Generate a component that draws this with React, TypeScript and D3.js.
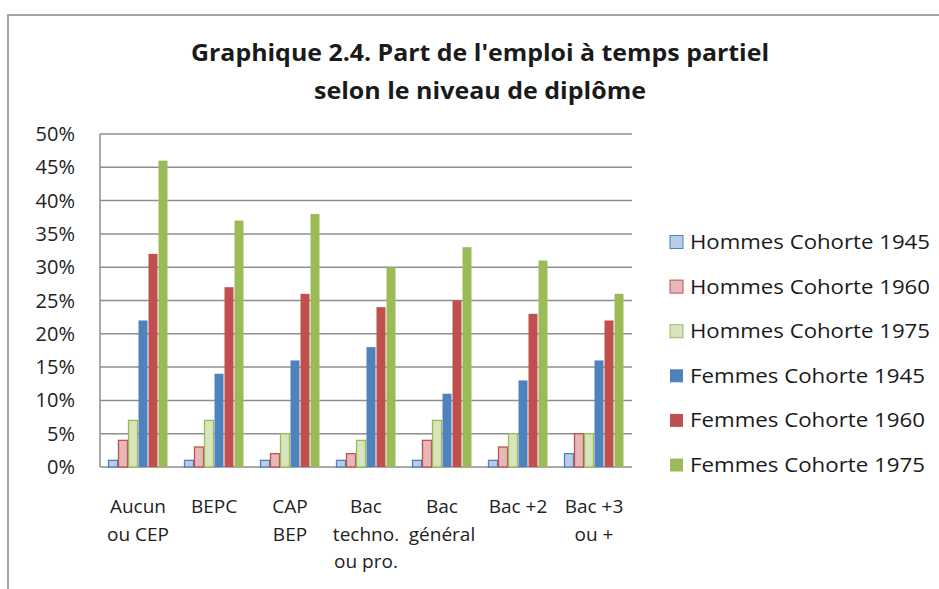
import React from "react";
import * as d3 from "d3";

const categories = [
  ["Aucun", "ou CEP"],
  ["BEPC"],
  ["CAP", "BEP"],
  ["Bac", "techno.", "ou pro."],
  ["Bac", "général"],
  ["Bac +2"],
  ["Bac +3", "ou +"],
];
const seriesNames = [
  "Hommes Cohorte 1945",
  "Hommes Cohorte 1960",
  "Hommes Cohorte 1975",
  "Femmes Cohorte 1945",
  "Femmes Cohorte 1960",
  "Femmes Cohorte 1975",
];
const hommes1945 = [1, 1, 1, 1, 1, 1, 2];
const hommes1960 = [4, 3, 2, 2, 4, 3, 5];
const hommes1975 = [7, 7, 5, 4, 7, 5, 5];
const femmes1945 = [22, 14, 16, 18, 11, 13, 16];
const femmes1960 = [32, 27, 26, 24, 25, 23, 22];
const femmes1975 = [46, 37, 38, 30, 33, 31, 26];
const yTicks = [0, 5, 10, 15, 20, 25, 30, 35, 40, 45, 50];

const fills = ["#b9cde5", "#e6b9b8", "#d7e4bd", "#4f81bd", "#c0504d", "#9bbb59"];
const strokes = ["#4f81bd", "#c0504d", "#9bbb59", "#4f81bd", "#c0504d", "#9bbb59"];

export default function App() {
  const series = [hommes1945, hommes1960, hommes1975, femmes1945, femmes1960, femmes1975];
  const W = 939, H = 589;
  const left = 100, right = 632, top = 134, bottom = 467;
  const font = "'Open Sans', Lato, sans-serif";
  const x0 = d3.scaleBand<number>().domain(d3.range(categories.length)).range([left, right]).paddingInner(0).paddingOuter(0);
  const x1 = d3.scaleBand<number>().domain(d3.range(series.length)).range([8, x0.bandwidth() - 8]);
  const y = d3.scaleLinear().domain([0, 50]).range([bottom, top]);

  return (
    <svg width={W} height={H} style={{ position: "absolute", left: 0, top: 0, background: "#fff" }}>
      <rect x={0} y={0} width={W} height={H} fill="#fff" />
      <path d={`M8,${H} V15 H${W}`} fill="none" stroke="#a6a6a6" strokeWidth={2} />
      <text x={480} y={61} textAnchor="middle" fontFamily={font} fontWeight="bold" fontSize={23} fill="#1a1a1a" textLength={578} lengthAdjust="spacingAndGlyphs">
        Graphique 2.4. Part de l'emploi à temps partiel
      </text>
      <text x={480} y={99} textAnchor="middle" fontFamily={font} fontWeight="bold" fontSize={23} fill="#1a1a1a" textLength={332} lengthAdjust="spacingAndGlyphs">
        selon le niveau de diplôme
      </text>
      {yTicks.map((t) => (
        <g key={t}>
          <line x1={left} x2={right} y1={y(t)} y2={y(t)} stroke="#8e8e8e" strokeWidth={1.5} />
          <text x={75} y={y(t) + 7} textAnchor="end" fontFamily={font} fontSize={20} fill="#222">
            {t}%
          </text>
        </g>
      ))}
      <line x1={left} x2={left} y1={top} y2={bottom} stroke="#8e8e8e" strokeWidth={1.5} />
      {categories.map((c, i) => (
        <g key={i} transform={`translate(${x0(i)},0)`}>
          {series.map((s, j) => (
            <rect
              key={j}
              x={(x1(j) as number) + 0.5}
              y={y(s[i])}
              width={x1.bandwidth() - 1}
              height={y(0) - y(s[i])}
              fill={fills[j]}
              stroke={j < 3 ? strokes[j] : "none"}
              strokeWidth={1.3}
            />
          ))}
          {c.map((line, k) => (
            <text
              key={k}
              x={x0.bandwidth() / 2}
              y={513 + k * 27.5}
              textAnchor="middle"
              fontFamily={font}
              fontSize={19}
              fill="#222"
            >
              {line}
            </text>
          ))}
        </g>
      ))}
      {seriesNames.map((n, j) => {
        const cy = 242 + j * 44.6;
        return (
          <g key={n}>
            <rect x={670} y={cy - 6.5} width={13} height={13} fill={fills[j]} stroke={j < 3 ? strokes[j] : "none"} strokeWidth={1} />
            <text x={690} y={cy + 7} fontFamily={font} fontSize={20} fill="#1a1a1a" textLength={j < 3 ? 240 : 235} lengthAdjust="spacingAndGlyphs">
              {n}
            </text>
          </g>
        );
      })}
    </svg>
  );
}
